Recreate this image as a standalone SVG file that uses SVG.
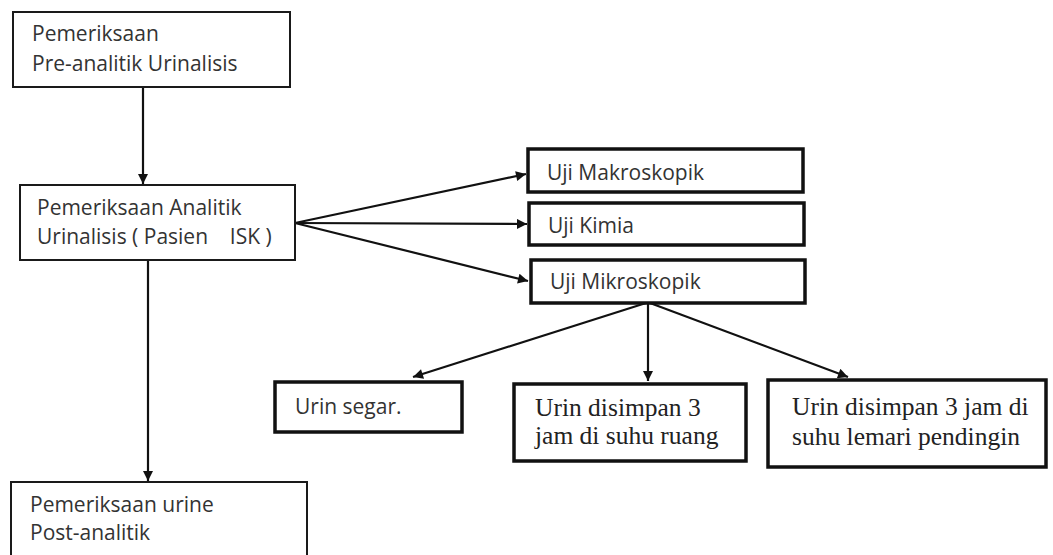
<svg xmlns="http://www.w3.org/2000/svg" width="1053" height="555" viewBox="0 0 1053 555">
<defs>
<style>
.thin{fill:#fff;stroke:#1a1a1a;stroke-width:2}
.thick{fill:#fff;stroke:#111;stroke-width:3.5}
.sans{font-family:"Open Sans","Liberation Sans",sans-serif;font-size:21px;fill:#333}
.serif{font-family:"Liberation Serif","Times New Roman",serif;font-size:25.5px;fill:#222}
.conn{stroke:#111;stroke-width:2.2;fill:none;marker-end:url(#ah)}
</style>
<marker id="ah" viewBox="0 0 10 10" refX="10" refY="5" markerWidth="11" markerHeight="10" markerUnits="userSpaceOnUse" orient="auto">
<path d="M0,0 L10,5 L0,10 Z" fill="#111"/>
</marker>
</defs>
<rect width="1053" height="555" fill="#fff"/>
<g id="connectors">
<line class="conn" x1="143" y1="87" x2="143" y2="184"/>
<line class="conn" x1="148" y1="260" x2="148" y2="481"/>
<line class="conn" x1="295" y1="223" x2="526" y2="174"/>
<line class="conn" x1="295" y1="223" x2="527" y2="224"/>
<line class="conn" x1="295" y1="223" x2="528" y2="281"/>
<line class="conn" x1="646" y1="303" x2="413" y2="377"/>
<line class="conn" x1="648" y1="303" x2="648" y2="381"/>
<line class="conn" x1="650" y1="303" x2="848" y2="377"/>
</g>
<g id="pre">
<rect class="thin" x="13" y="12" width="277" height="75"/>
<text class="sans" x="32" y="41">Pemeriksaan</text>
<text class="sans" x="32" y="71">Pre-analitik Urinalisis</text>
</g>
<g id="analitik">
<rect class="thin" x="20" y="185" width="275" height="75"/>
<text class="sans" x="37" y="215">Pemeriksaan Analitik</text>
<text class="sans" x="37" y="244" xml:space="preserve">Urinalisis ( Pasien    ISK )</text>
</g>
<g id="makro">
<rect class="thick" x="528" y="149" width="275" height="43"/>
<text class="sans" x="547" y="180">Uji Makroskopik</text>
</g>
<g id="kimia">
<rect class="thick" x="529" y="203" width="275" height="42"/>
<text class="sans" x="548" y="233">Uji Kimia</text>
</g>
<g id="mikro">
<rect class="thick" x="531" y="260" width="274" height="43"/>
<text class="sans" x="550" y="289">Uji Mikroskopik</text>
</g>
<g id="segar">
<rect class="thick" x="275" y="382" width="187" height="50"/>
<text class="sans" x="295" y="414">Urin segar.</text>
</g>
<g id="ruang">
<rect class="thick" x="514" y="384" width="232" height="77"/>
<text class="serif" x="535" y="416">Urin disimpan 3</text>
<text class="serif" x="535" y="444">jam di suhu ruang</text>
</g>
<g id="lemari">
<rect class="thick" x="768" y="380" width="278" height="87"/>
<text class="serif" x="792" y="415">Urin disimpan 3 jam di</text>
<text class="serif" x="792" y="445">suhu lemari pendingin</text>
</g>
<g id="post">
<rect class="thin" x="11" y="482" width="296" height="80"/>
<text class="sans" x="30" y="512">Pemeriksaan urine</text>
<text class="sans" x="30" y="540">Post-analitik</text>
</g>
</svg>
